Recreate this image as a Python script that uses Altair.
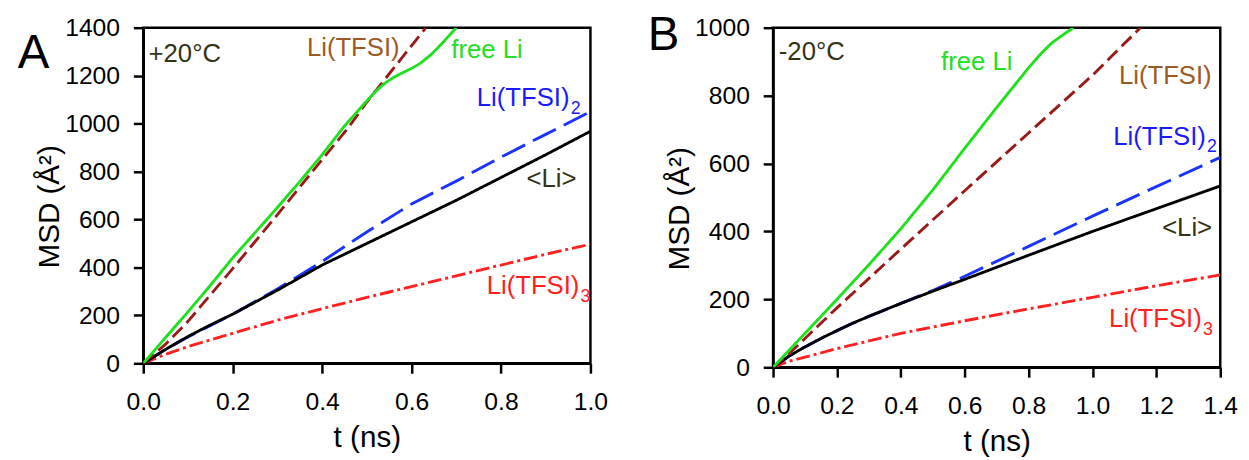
import altair as alt
import pandas as pd

FONT = "Liberation Sans"

# ---------------- Panel A (+20 °C) ----------------
A_free_t = [0, 0.05, 0.1, 0.15, 0.2, 0.25, 0.3, 0.35, 0.4, 0.45, 0.5, 0.52, 0.54, 0.56, 0.58, 0.6, 0.62, 0.645, 0.67, 0.7]
A_free_v = [0, 108, 215, 325, 440, 545, 650, 758, 870, 990, 1095, 1135, 1168, 1193, 1212, 1230, 1252, 1290, 1338, 1400]

A_tfsi1_t = [0, 0.05, 0.1, 0.15, 0.2, 0.3, 0.4, 0.459, 0.5, 0.6, 0.632]
A_tfsi1_v = [0, 80, 175, 285, 395, 620, 850, 984, 1090, 1325, 1400]

A_tfsi2_t = [0, 0.05, 0.1, 0.2, 0.3, 0.4, 0.5, 0.6, 0.7, 0.8, 0.9, 1.0]
A_tfsi2_v = [0, 58, 110, 205, 310, 425, 548, 665, 760, 860, 955, 1050]

A_li_t = [0, 0.05, 0.1, 0.15, 0.2, 0.3, 0.4, 0.5, 0.6, 0.7, 0.8, 0.9, 1.0]
A_li_v = [0, 58, 112, 160, 205, 305, 410, 500, 590, 680, 775, 870, 968]

A_tfsi3_t = [0, 0.05, 0.1, 0.2, 0.3, 0.4, 0.5, 0.6, 0.7, 0.8, 0.9, 1.0]
A_tfsi3_v = [0, 38, 70, 125, 180, 228, 275, 320, 365, 410, 455, 497]

# ---------------- Panel B (-20 °C) ----------------
B_free_t = [0, 0.05, 0.1, 0.2, 0.3, 0.4, 0.5, 0.6, 0.7, 0.8, 0.84, 0.87, 0.9, 0.94]
B_free_v = [0, 50, 100, 200, 302, 408, 522, 645, 765, 882, 925, 953, 974, 1000]

B_tfsi1_t = [0, 0.05, 0.1, 0.2, 0.4, 0.6, 0.8, 1.0, 1.15]
B_tfsi1_v = [0, 40, 85, 175, 348, 520, 690, 860, 1000]

B_tfsi2_t = [0, 0.05, 0.1, 0.15, 0.2, 0.25, 0.3, 0.4, 0.5, 0.6, 0.8, 1.0, 1.2, 1.4]
B_tfsi2_v = [0, 33, 60, 85, 108, 130, 150, 188, 226, 268, 356, 445, 532, 618]

B_li_t = [0, 0.05, 0.1, 0.15, 0.2, 0.25, 0.3, 0.4, 0.5, 0.6, 0.8, 1.0, 1.2, 1.4]
B_li_v = [0, 33, 60, 85, 108, 130, 150, 188, 224, 259, 330, 400, 467, 534]

B_tfsi3_t = [0, 0.05, 0.1, 0.2, 0.4, 0.6, 0.8, 1.0, 1.2, 1.4]
B_tfsi3_v = [0, 18, 30, 55, 100, 137, 172, 206, 240, 272]

# axis ticks
A_xticks = [0.0, 0.2, 0.4, 0.6, 0.8, 1.0]
A_yticks = [0, 200, 400, 600, 800, 1000, 1200, 1400]
B_xticks = [0.0, 0.2, 0.4, 0.6, 0.8, 1.0, 1.2, 1.4]
B_yticks = [0, 200, 400, 600, 800, 1000]

# label texts and anchor positions (data units)
A_lab_text = ["+20°C", "Li(TFSI)", "free Li", "Li(TFSI)", "<Li>", "Li(TFSI)"]
A_lab_t = [0.012, 0.366, 0.689, 0.746, 0.857, 0.768]
A_lab_v = [1258, 1283, 1272, 1073, 736, 290]
A_lab_sub = ["", "", "", "2", "", "3"]

B_lab_text = ["-20°C", "free Li", "Li(TFSI)", "Li(TFSI)", "<Li>", "Li(TFSI)"]
B_lab_t = [0.018, 0.526, 1.083, 1.065, 1.218, 1.052]
B_lab_v = [906, 876, 835, 656, 388, 118]
B_lab_sub = ["", "", "", "2", "", "3"]

LAB_COLORS = ["#333318", "#9c5a24", "#22e022", "#1a1aff", "#333318", "#ff2020"]
B_LAB_COLORS = ["#333318", "#22e022", "#9c5a24", "#1a1aff", "#333318", "#ff2020"]

LINE_STYLES = {
    "tfsi3": ("#ff2020", [14, 4, 3, 4]),
    "tfsi2": ("#1a33ff", [26, 9]),
    "li": ("#000000", [1, 0]),
    "tfsi1": ("#9a1a1a", [14, 6]),
    "free": ("#1fe01f", [1, 0]),
}


def panel(letter, letter_y, tmax, xticks, ymax, yticks, height, series, lab_t, lab_v, lab_text, lab_sub, lab_colors):
    x_enc = alt.X("t:Q", scale=alt.Scale(domain=[0, tmax], nice=False, zero=True),
                  axis=alt.Axis(values=xticks, format=".1f", title="t (ns)"))
    y_enc = alt.Y("msd:Q", scale=alt.Scale(domain=[0, ymax], nice=False, zero=True),
                  axis=alt.Axis(values=yticks, format="d", title="MSD (Å²)", titleY=height / 2 + 11))
    layers = []
    for key in ["tfsi3", "tfsi2", "li", "tfsi1", "free"]:
        t, v = series[key]
        color, dash = LINE_STYLES[key]
        df = pd.DataFrame({"t": t, "msd": v})
        layers.append(
            alt.Chart(df).mark_line(color=color, strokeDash=dash, strokeWidth=2.9, clip=True)
            .encode(x=x_enc, y=y_enc)
        )
    lab = pd.DataFrame({"t": lab_t, "msd": lab_v, "text": lab_text, "sub": lab_sub, "color": lab_colors})
    layers.append(
        alt.Chart(lab).mark_text(align="left", baseline="alphabetic", fontSize=26, font=FONT)
        .encode(x=x_enc, y=y_enc, text="text:N", color=alt.Color("color:N", scale=None))
    )
    sub = lab[lab["sub"] != ""]
    layers.append(
        alt.Chart(sub).mark_text(align="left", baseline="alphabetic", fontSize=18, font=FONT, dx=95, dy=8)
        .encode(x=x_enc, y=y_enc, text="sub:N", color=alt.Color("color:N", scale=None))
    )
    let = pd.DataFrame({"letter": [letter]})
    layers.append(
        alt.Chart(let).mark_text(align="center", baseline="alphabetic", fontSize=48, font=FONT, color="black")
        .encode(x=alt.value(-111), y=alt.value(letter_y), text="letter:N")
    )
    return alt.layer(*layers).properties(width=453, height=height)


pA = panel("A", 41, 1.0, A_xticks, 1400, A_yticks, 340,
           {"free": (A_free_t, A_free_v), "tfsi1": (A_tfsi1_t, A_tfsi1_v), "tfsi2": (A_tfsi2_t, A_tfsi2_v),
            "li": (A_li_t, A_li_v), "tfsi3": (A_tfsi3_t, A_tfsi3_v)},
           A_lab_t, A_lab_v, A_lab_text, A_lab_sub, LAB_COLORS)
pB = panel("B", 23, 1.4, B_xticks, 1000, B_yticks, 344,
           {"free": (B_free_t, B_free_v), "tfsi1": (B_tfsi1_t, B_tfsi1_v), "tfsi2": (B_tfsi2_t, B_tfsi2_v),
            "li": (B_li_t, B_li_v), "tfsi3": (B_tfsi3_t, B_tfsi3_v)},
           B_lab_t, B_lab_v, B_lab_text, B_lab_sub, B_LAB_COLORS)

chart = (
    alt.hconcat(pA, pB, spacing=37)
    .properties(padding={"left": 8, "top": 0, "right": 2, "bottom": 0}, background="white")
    .configure_view(stroke="black", strokeWidth=2.5)
    .configure_axis(domainColor="black", domainWidth=2.5, tickColor="black", tickWidth=2.5, tickSize=10,
                    labelFont=FONT, labelFontSize=25, labelColor="black", labelFlush=False, labelOverlap=False,
                    titleFont=FONT, titleFontSize=30, titleColor="black", titleFontWeight="normal", grid=False)
    .configure_axisX(labelPadding=17, titlePadding=8)
    .configure_axisY(labelPadding=14, titlePadding=0)
)

chart.save("out.html", embed_options={"renderer": "svg", "actions": False})
